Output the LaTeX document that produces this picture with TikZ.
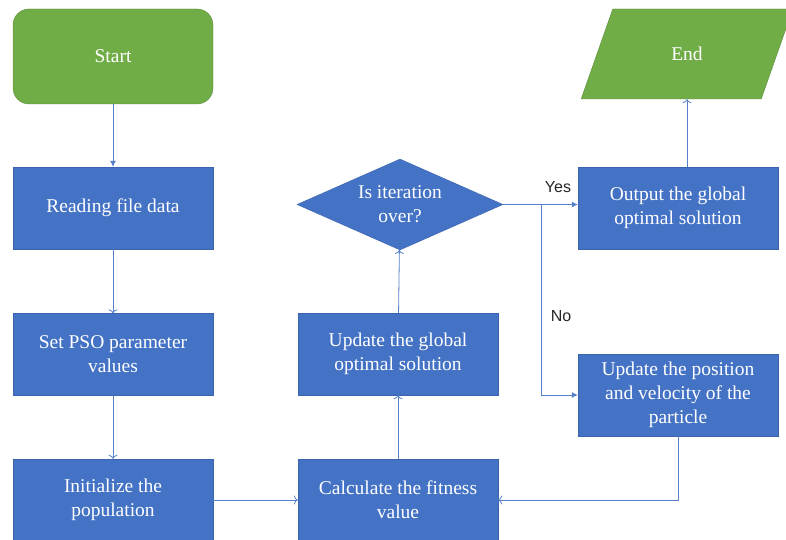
\documentclass[tikz,border=0pt]{standalone}
\usepackage{xcolor}
\usepackage{fontspec}
\newfontfamily\boxfont{Liberation Serif}
\newfontfamily\labelfont{Liberation Sans}
\usepackage{tikz}
\usetikzlibrary{shapes.geometric}
\usetikzlibrary{calc}
\usetikzlibrary{arrows.meta}
\definecolor{flowblue}{HTML}{4472C4}
\definecolor{flowgreen}{HTML}{70AD47}
\definecolor{flowedge}{HTML}{3A62AD}

\begin{document}
\begin{tikzpicture}[x=1pt,y=-1pt,
    every node/.style={font=\boxfont\fontsize{19.5}{24}\selectfont,
      text=white, align=center, inner sep=0pt},
    process/.style={draw=flowedge, fill=flowblue,
      minimum width=200pt, minimum height=82pt},
    link/.style={draw=flowblue!90!white, line width=0.8pt},
    solid tip/.style={-{Latex[length=6pt,width=6pt]}},
    open tip/.style={-{To[length=4pt,width=9pt]}},
    answer/.style={font=\labelfont\fontsize{16}{18}\selectfont, text=black!85}]
      \useasboundingbox (0,0) rectangle (786,540);
      \node[draw=flowgreen!80!black, fill=flowgreen,
        rounded corners=16pt,
        minimum width=200pt,
        minimum height=95pt] (start) at (113,56.5) {Start};
      \node[process] (read) at (113,208) {Reading file data};
      \node[process] (pso) at (113,354.5) {Set PSO parameter\\values};
      \node[process] (init) at (113,500) {Initialize the\\population};
      \node[process] (calc) at (398,500) {Calculate the fitness\\value};
      \node[process] (upglobal) at (398,354) {Update the global\\optimal solution};
      \node[draw=flowedge, fill=flowblue,
        diamond,
        minimum width=206pt,
        minimum height=91pt,
        label={[name=itertext]center:Is iteration\\over?}] (iter) at (400,204.5) {};
      \node[process] (output) at (678,208) {Output the global\\optimal solution};
      \node[process] (update) at (678,395) {Update the position\\and velocity of the\\particle};
      \node[draw=flowgreen!80!black, fill=flowgreen,
        trapezium,
        trapezium left angle=64,
        trapezium right angle=116,
        trapezium stretches=true,
        minimum width=212pt,
        minimum height=90pt] (end) at (687,54) {End};
      \node[answer] (yes) at (558,187) {Yes};
      \node[answer] (no) at (561,316) {No};
      \coordinate (fork) at (541,204.5);
      \draw[link,solid tip] (start) -- (read);
      \draw[link,open tip] (read) -- (pso);
      \draw[link,open tip] (pso) -- (init);
      \draw[link,open tip] (init) -- (calc);
      \draw[link,open tip] (calc) -- (upglobal);
      \draw[link,open tip] (upglobal) -- (iter);
      \draw[link,solid tip] (iter.east) -- (iter.east -| output.west);
      \draw[link,solid tip] (fork) |- (update);
      \draw[link,open tip] (update.south) |- (calc.east);
      \draw[link,open tip] (end.south |- output.north) -- (end.south);
    \end{tikzpicture}
\end{document}
